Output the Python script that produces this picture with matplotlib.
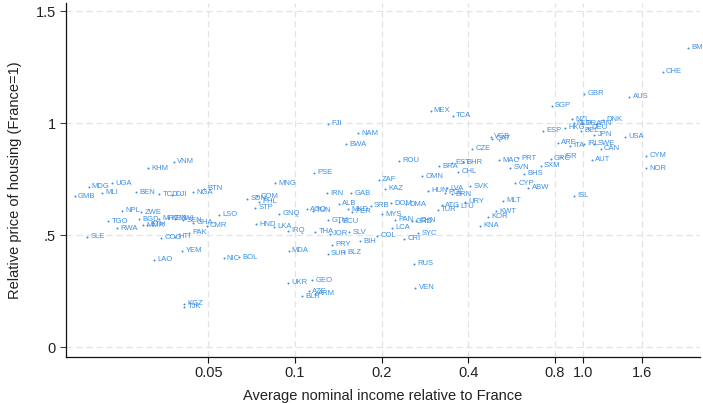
import matplotlib
matplotlib.use("Agg")
import matplotlib.pyplot as plt
from matplotlib.ticker import FixedLocator, FixedFormatter, NullLocator

plt.rcParams['font.family'] = ['Liberation Sans', 'DejaVu Sans']

# country codes, income relative to France, housing price relative to France
countries = ['GMB', 'MDG', 'SLE', 'MLI', 'TGO', 'UGA', 'RWA', 'NPL', 'BEN', 'BGD',
             'ZWE', 'MMR', 'ETH', 'KHM', 'LAO', 'MRT', 'TCD', 'COG', 'KEN', 'DJI',
             'VNM', 'MWI', 'HTI', 'YEM', 'SEN', 'KGZ', 'TJK', 'PAK', 'GHA', 'NGA',
             'BTN', 'CMR', 'LSO', 'NIC', 'BOL', 'SDN', 'STP', 'HND', 'COM', 'PHL',
             'LKA', 'MNG', 'GNQ', 'IRQ', 'UKR', 'MDA', 'BLR', 'AGO', 'AZE', 'GEO',
             'TUN', 'PSE', 'ARM', 'THA', 'IRN', 'FJI', 'SUR', 'GTM', 'JOR', 'PRY',
             'ALB', 'ECU', 'BLZ', 'BWA', 'MKD', 'SLV', 'GAB', 'PER', 'NAM', 'BIH',
             'SRB', 'COL', 'ZAF', 'MYS', 'KAZ', 'DOM', 'LCA', 'PAN', 'ROU', 'CRI',
             'DMA', 'GRD', 'RUS', 'VEN', 'CHN', 'SYC', 'OMN', 'HUN', 'MEX', 'TUR',
             'BRA', 'ATG', 'POL', 'LVA', 'EST', 'BRN', 'TCA', 'LTU', 'CHL', 'BHR',
             'URY', 'SVK', 'CZE', 'KNA', 'KOR', 'VGB', 'QAT', 'KWT', 'MAC', 'MLT',
             'SVN', 'CYP', 'PRT', 'BHS', 'ABW', 'SXM', 'ESP', 'GRC', 'SGP', 'ARE',
             'ISR', 'HKG', 'ITA', 'NZL', 'NLD', 'ISL', 'BEL', 'FRA', 'IRL', 'DEU',
             'AUT', 'SWE', 'JPN', 'FIN', 'CAN', 'DNK', 'GBR', 'USA', 'AUS', 'NOR',
             'CYM', 'CHE', 'BMU']

income = [0.0172, 0.0192, 0.0190, 0.0214, 0.0225, 0.0232, 0.0241, 0.0251, 0.0281, 0.0287,
          0.0292, 0.0296, 0.0306, 0.0309, 0.0324, 0.0337, 0.0338, 0.0344, 0.0363, 0.0374,
          0.0379, 0.0384, 0.0384, 0.0407, 0.0410, 0.0412, 0.0413, 0.0430, 0.0442, 0.0444,
          0.0484, 0.0494, 0.0547, 0.0565, 0.0640, 0.0681, 0.0726, 0.0733, 0.0741, 0.0751,
          0.0849, 0.0854, 0.0880, 0.0945, 0.0945, 0.0950, 0.106, 0.1097, 0.1115, 0.1149,
          0.1155, 0.1161, 0.1170, 0.1177, 0.1295, 0.1298, 0.1298, 0.1303, 0.1320, 0.1341,
          0.1418, 0.1418, 0.1476, 0.1508, 0.1529, 0.1541, 0.1564, 0.1579, 0.1652, 0.1678,
          0.1833, 0.1934, 0.1954, 0.2008, 0.2054, 0.2163, 0.2172, 0.2228, 0.2297, 0.2401,
          0.2440, 0.2554, 0.2595, 0.2616, 0.2643, 0.2679, 0.2763, 0.2898, 0.2957, 0.3127,
          0.3160, 0.3229, 0.3308, 0.3375, 0.3499, 0.3499, 0.3536, 0.3642, 0.3680, 0.3837,
          0.3883, 0.4058, 0.4130, 0.4379, 0.4689, 0.4783, 0.4848, 0.4990, 0.5112, 0.5296,
          0.5584, 0.5830, 0.5952, 0.6264, 0.6469, 0.7140, 0.7272, 0.7734, 0.7780, 0.8163,
          0.8381, 0.8653, 0.9006, 0.9151, 0.9278, 0.9324, 0.9877, 1.0, 1.008, 1.040,
          1.074, 1.092, 1.094, 1.109, 1.152, 1.176, 1.010, 1.400, 1.449, 1.652,
          1.656, 1.893, 2.313]

price = [0.675, 0.716, 0.494, 0.690, 0.563, 0.732, 0.531, 0.610, 0.692, 0.571,
         0.603, 0.545, 0.547, 0.799, 0.390, 0.573, 0.684, 0.489, 0.576, 0.680,
         0.829, 0.573, 0.494, 0.430, 0.568, 0.195, 0.180, 0.512, 0.556, 0.692,
         0.708, 0.542, 0.592, 0.397, 0.402, 0.663, 0.623, 0.550, 0.675, 0.649,
         0.538, 0.733, 0.596, 0.521, 0.288, 0.430, 0.228, 0.617, 0.251, 0.300,
         0.610, 0.778, 0.238, 0.515, 0.688, 0.998, 0.417, 0.568, 0.506, 0.457,
         0.641, 0.561, 0.424, 0.906, 0.617, 0.513, 0.688, 0.605, 0.955, 0.473,
         0.631, 0.498, 0.747, 0.594, 0.707, 0.644, 0.533, 0.569, 0.833, 0.485,
         0.638, 0.563, 0.372, 0.266, 0.565, 0.509, 0.764, 0.699, 1.055, 0.613,
         0.808, 0.635, 0.689, 0.709, 0.824, 0.682, 1.033, 0.629, 0.783, 0.827,
         0.649, 0.718, 0.887, 0.543, 0.583, 0.940, 0.932, 0.607, 0.836, 0.654,
         0.802, 0.732, 0.844, 0.774, 0.713, 0.811, 0.967, 0.841, 1.079, 0.913,
         0.851, 0.980, 0.899, 1.018, 0.999, 0.677, 0.966, 1.0, 0.908, 0.981,
         0.838, 0.909, 0.949, 0.998, 0.886, 1.016, 1.132, 0.939, 1.119, 0.799,
         0.854, 1.230, 1.338]

x_ticks = [0.05, 0.1, 0.2, 0.4, 0.8, 1.0, 1.6]
x_tick_labels = ['0.05', '0.1', '0.2', '0.4', '0.8', '1.0', '1.6']
y_ticks = [0, 0.5, 1, 1.5]
y_tick_labels = ['0', '.5', '1', '1.5']

blue = '#3a8fe8'
grid_col = '#e3e3e3'
text_col = '#222222'

fig = plt.figure(figsize=(7.03, 4.03), dpi=100)
ax = fig.add_axes([0.0935, 0.115, 0.9022, 0.877])

ax.scatter(income, price, s=2.0, color=blue, linewidths=0, zorder=3)
for c, xv, yv in zip(countries, income, price):
    ax.annotate(c, (xv, yv), xytext=(2.4, 0), textcoords='offset points',
                ha='left', va='center', fontsize=5.5, color=blue, zorder=4,
                annotation_clip=False)

ax.set_xscale('log')
ax.set_xlim(0.0160, 2.55)
ax.set_ylim(-0.042, 1.536)
ax.xaxis.set_major_locator(FixedLocator(x_ticks))
ax.xaxis.set_major_formatter(FixedFormatter(x_tick_labels))
ax.xaxis.set_minor_locator(NullLocator())
ax.set_yticks(y_ticks)
ax.set_yticklabels(y_tick_labels)

ax.grid(True, color=grid_col, linestyle=(0, (5, 3)), linewidth=0.9, zorder=0)
ax.set_axisbelow(True)

for side in ['top', 'right']:
    ax.spines[side].set_visible(False)
for side in ['left', 'bottom']:
    ax.spines[side].set_color('#111111')
    ax.spines[side].set_linewidth(0.9)

ax.tick_params(axis='both', direction='out', length=4, width=0.8,
               colors='#444444', labelcolor=text_col, labelsize=10.5, pad=3)
ax.tick_params(axis='x', colors='#111111', labelcolor=text_col)

ax.set_xlabel('Average nominal income relative to France', fontsize=10.5,
              color=text_col, labelpad=6)
ax.set_ylabel('Relative price of housing (France=1)', fontsize=10.5,
              color=text_col, labelpad=10)

fig.savefig('out.png', dpi=100)
